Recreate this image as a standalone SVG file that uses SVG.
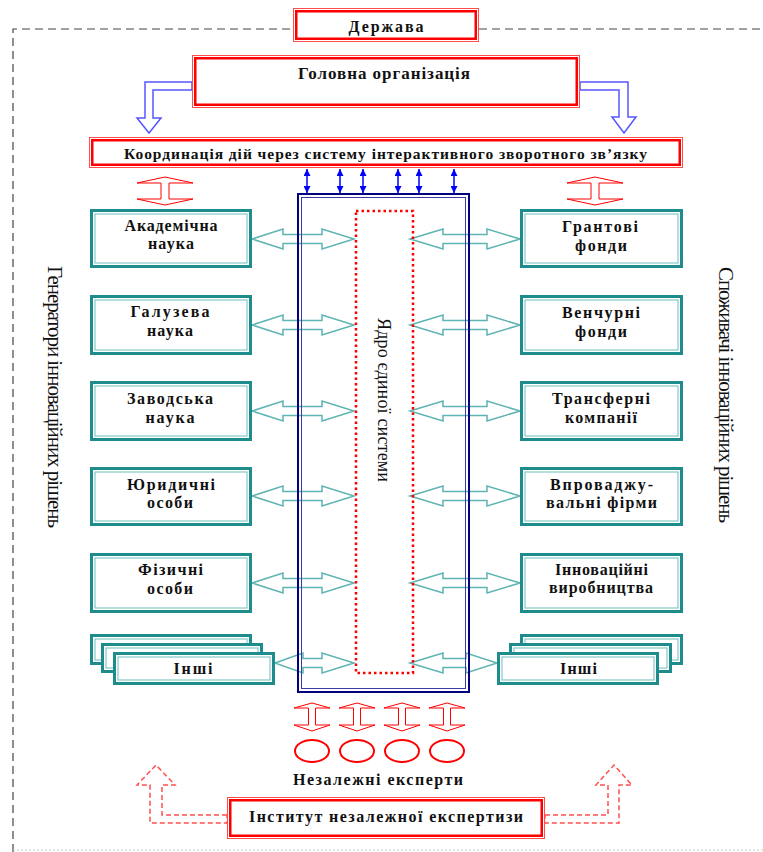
<svg xmlns="http://www.w3.org/2000/svg" width="763" height="852" viewBox="0 0 763 852">
<style>
text{font-family:"Liberation Serif","Times New Roman",serif;fill:#111}
.b{font-weight:bold;font-size:16px;text-anchor:middle}
.v{font-size:21px;text-anchor:middle}
.ro{fill:#fff;stroke:#ff4d4d;stroke-width:1}
.ri{fill:none;stroke:#f00;stroke-width:2.5}
.to{fill:#fff;stroke:#1e8c8c;stroke-width:3}
.ti{fill:none;stroke:#6dbdbd;stroke-width:1}
.ta{fill:#fff;stroke:#5fb3b3;stroke-width:1.5}
.ba{fill:#fff;stroke:#5555ff;stroke-width:1.5}
.ra{fill:#fff;stroke:#f00;stroke-width:1}
.rd{fill:#fff;stroke:#ff5050;stroke-width:1.5;stroke-dasharray:5,3}
.sm{stroke:#00f;stroke-width:1.5;marker-start:url(#ah);marker-end:url(#ah)}
.fr{fill:none;stroke:#444;stroke-width:1.2;stroke-dasharray:8,5}
</style>
<defs>
<marker id="ah" viewBox="0 0 10 10" refX="10" refY="5" markerWidth="7" markerHeight="7" markerUnits="userSpaceOnUse" orient="auto-start-reverse">
<path d="M0,0 L10,5 L0,10 z" fill="#00f"/>
</marker>
</defs>
<rect width="763" height="852" fill="#fff"/>
<g id="frame">
<path class="fr" d="M13,852 V29 H293 M479,29 H763"/>
<path d="M13,850 H763" stroke="#ccc" stroke-width="1" stroke-dasharray="2,2"/>
</g>
<g id="connectors">
<polygon class="ba" points="192,82 145,82 145,118 137,118 149,133 161,118 153,118 153,90 192,90"/>
<polygon class="ba" points="580,82 628,82 628,117 636,117 624,133 612,117 619,117 619,90 580,90"/>
<line class="sm" x1="307" y1="169" x2="307" y2="193"/>
<line class="sm" x1="340" y1="169" x2="340" y2="193"/>
<line class="sm" x1="363" y1="169" x2="363" y2="193"/>
<line class="sm" x1="398" y1="169" x2="398" y2="193"/>
<line class="sm" x1="419" y1="169" x2="419" y2="193"/>
<line class="sm" x1="454" y1="169" x2="454" y2="193"/>
<polygon class="ra" points="165,177 193,183 169,183 169,199 193,199 165,205 137,199 161,199 161,183 137,183"/>
<polygon class="ra" points="595,177 623,183 599,183 599,199 623,199 595,205 567,199 591,199 591,183 567,183"/>
<g id="ta-left">
<polygon class="ta" points="252,239 283,229 283,234.5 322,234.5 322,229 354,239 322,249 322,243.5 283,243.5 283,249"/>
<polygon class="ta" points="252,325 283,315 283,320.5 322,320.5 322,315 354,325 322,335 322,329.5 283,329.5 283,335"/>
<polygon class="ta" points="252,411 283,401 283,406.5 322,406.5 322,401 354,411 322,421 322,415.5 283,415.5 283,421"/>
<polygon class="ta" points="252,496 283,486 283,491.5 322,491.5 322,486 354,496 322,506 322,500.5 283,500.5 283,506"/>
<polygon class="ta" points="252,583 283,573 283,578.5 322,578.5 322,573 354,583 322,593 322,587.5 283,587.5 283,593"/>
<polygon class="ta" points="275,663 303,653 303,658.5 322,658.5 322,653 354,663 322,673 322,667.5 303,667.5 303,673"/>
</g>
<g id="ta-right">
<polygon class="ta" points="410,239 443,229 443,234.5 487,234.5 487,229 520,239 487,249 487,243.5 443,243.5 443,249"/>
<polygon class="ta" points="410,325 443,315 443,320.5 487,320.5 487,315 520,325 487,335 487,329.5 443,329.5 443,335"/>
<polygon class="ta" points="410,411 443,401 443,406.5 487,406.5 487,401 520,411 487,421 487,415.5 443,415.5 443,421"/>
<polygon class="ta" points="410,496 443,486 443,491.5 487,491.5 487,486 520,496 487,506 487,500.5 443,500.5 443,506"/>
<polygon class="ta" points="410,583 443,573 443,578.5 487,578.5 487,573 520,583 487,593 487,587.5 443,587.5 443,593"/>
<polygon class="ta" points="410,663 443,653 443,658.5 466,658.5 466,653 497,663 466,673 466,667.5 443,667.5 443,673"/>
</g>
<g id="expert-arrows">
<polygon class="ra" points="312,703 330,708 315.5,708 315.5,725 330,725 312,731 294,725 308.5,725 308.5,708 294,708"/>
<polygon class="ra" points="357,703 375,708 360.5,708 360.5,725 375,725 357,731 339,725 353.5,725 353.5,708 339,708"/>
<polygon class="ra" points="402,703 420,708 405.5,708 405.5,725 420,725 402,731 384,725 398.5,725 398.5,708 384,708"/>
<polygon class="ra" points="447,703 465,708 450.5,708 450.5,725 465,725 447,731 429,725 443.5,725 443.5,708 429,708"/>
</g>
<polygon class="rd" points="227,815 162,815 162,785 175,785 156,765 137,785 150,785 150,823 227,823"/>
<polygon class="rd" points="545,815 608,815 608,785 596,785 614,765 632,785 619,785 619,823 545,823"/>
</g>
<g id="derzhava">
<rect class="ro" x="293.5" y="8.5" width="185" height="33"/>
<rect class="ri" x="296.25" y="11.25" width="179.5" height="27.5"/>
<text class="b" x="386" y="32" textLength="75">Держава</text>
</g>
<g id="holovna">
<rect class="ro" x="192.5" y="55.5" width="387" height="52"/>
<rect class="ri" x="195.25" y="58.25" width="381.5" height="46.5"/>
<text class="b" x="384" y="79" textLength="172" style="font-size:17px">Головна організація</text>
</g>
<g id="koordynatsiia">
<rect class="ro" x="89.5" y="137.5" width="593" height="30"/>
<rect class="ri" x="92.25" y="140.25" width="587.5" height="24.5"/>
<text class="b" x="385.5" y="159" textLength="523" style="font-size:15.5px">Координація дій через систему інтерактивного зворотного зв’язку</text>
</g>
<g id="core">
<rect x="298" y="194" width="171" height="498" fill="none" stroke="#000080" stroke-width="2"/>
<rect x="301.5" y="197.5" width="164" height="491" fill="none" stroke="#3a3aa8" stroke-width="1"/>
<rect x="356" y="211" width="57" height="462" fill="none" stroke="#f00" stroke-width="2.5" stroke-dasharray="2.5,3"/>
<text transform="translate(378,400) rotate(90)" font-size="18" text-anchor="middle" textLength="164">Ядро єдиної системи</text>
</g>
<g id="akademichna">
<rect class="to" x="91.5" y="210.5" width="159" height="56"/>
<rect class="ti" x="95" y="214" width="152" height="49"/>
<text class="b" x="171" y="231" textLength="93">Академічна</text>
<text class="b" x="171" y="249" textLength="46">наука</text>
</g>
<g id="haluzeva">
<rect class="to" x="91.5" y="296.5" width="159" height="57"/>
<rect class="ti" x="95" y="300" width="152" height="50"/>
<text class="b" x="170" y="317" textLength="79">Галузева</text>
<text class="b" x="170" y="336" textLength="46">наука</text>
</g>
<g id="zavodska">
<rect class="to" x="91.5" y="382.5" width="159" height="57"/>
<rect class="ti" x="95" y="386" width="152" height="50"/>
<text class="b" x="170" y="404" textLength="86">Заводська</text>
<text class="b" x="170" y="423" textLength="49">наука</text>
</g>
<g id="yurydychni">
<rect class="to" x="91.5" y="468.5" width="159" height="56"/>
<rect class="ti" x="95" y="472" width="152" height="49"/>
<text class="b" x="171" y="490" textLength="88">Юридичні</text>
<text class="b" x="170" y="508" textLength="46">особи</text>
</g>
<g id="fizychni">
<rect class="to" x="91.5" y="554.5" width="159" height="57"/>
<rect class="ti" x="95" y="558" width="152" height="50"/>
<text class="b" x="170.5" y="575" textLength="65">Фізичні</text>
<text class="b" x="170" y="594" textLength="46">особи</text>
</g>
<g id="inshi-left">
<rect class="to" x="91.5" y="635.5" width="159" height="28"/>
<rect class="ti" x="95" y="639" width="152" height="21"/>
<rect class="to" x="102.5" y="644.5" width="159" height="27"/>
<rect class="ti" x="106" y="648" width="152" height="20"/>
<rect class="to" x="114.5" y="653.5" width="159" height="30"/>
<rect class="ti" x="118" y="657" width="152" height="23"/>
<text class="b" x="193" y="674" textLength="39">Інші</text>
</g>
<g id="grantovi">
<rect class="to" x="521.5" y="210.5" width="160" height="56"/>
<rect class="ti" x="525" y="214" width="153" height="49"/>
<text class="b" x="600" y="232" textLength="76">Грантові</text>
<text class="b" x="601" y="251" textLength="52">фонди</text>
</g>
<g id="venchurni">
<rect class="to" x="521.5" y="296.5" width="160" height="57"/>
<rect class="ti" x="525" y="300" width="153" height="50"/>
<text class="b" x="601" y="318" textLength="78">Венчурні</text>
<text class="b" x="601" y="337" textLength="52">фонди</text>
</g>
<g id="transferni">
<rect class="to" x="521.5" y="382.5" width="160" height="57"/>
<rect class="ti" x="525" y="386" width="153" height="50"/>
<text class="b" x="601" y="404" textLength="98">Трансферні</text>
<text class="b" x="601" y="423" textLength="72">компанії</text>
</g>
<g id="vprovadzhuvalni">
<rect class="to" x="521.5" y="468.5" width="160" height="56"/>
<rect class="ti" x="525" y="472" width="153" height="49"/>
<text class="b" x="601.5" y="490" textLength="103">Впроваджу-</text>
<text class="b" x="601.5" y="508" textLength="111">вальні фірми</text>
</g>
<g id="innovatsiini">
<rect class="to" x="521.5" y="554.5" width="160" height="57"/>
<rect class="ti" x="525" y="558" width="153" height="50"/>
<text class="b" x="601.5" y="575" textLength="93">Інноваційні</text>
<text class="b" x="601" y="593" textLength="104">виробництва</text>
</g>
<g id="inshi-right">
<rect class="to" x="521.5" y="635.5" width="160" height="28"/>
<rect class="ti" x="525" y="639" width="153" height="21"/>
<rect class="to" x="510.5" y="644.5" width="160" height="27"/>
<rect class="ti" x="514" y="648" width="153" height="20"/>
<rect class="to" x="498.5" y="653.5" width="159" height="30"/>
<rect class="ti" x="502" y="657" width="152" height="23"/>
<text class="b" x="578.5" y="674" textLength="37">Інші</text>
</g>
<g id="experts">
<ellipse cx="312" cy="751" rx="17" ry="11" fill="none" stroke="#f00" stroke-width="2"/>
<ellipse cx="357" cy="751" rx="17" ry="11" fill="none" stroke="#f00" stroke-width="2"/>
<ellipse cx="402" cy="751" rx="17" ry="11" fill="none" stroke="#f00" stroke-width="2"/>
<ellipse cx="447" cy="751" rx="17" ry="11" fill="none" stroke="#f00" stroke-width="2"/>
<text class="b" x="378" y="785" textLength="170">Незалежні експерти</text>
</g>
<g id="instytut">
<rect class="ro" x="227.5" y="797.5" width="317" height="41"/>
<rect class="ri" x="230.25" y="800.25" width="311.5" height="35.5"/>
<text class="b" x="386" y="822" textLength="274">Інститут незалежної експертизи</text>
</g>
<g id="side-labels">
<text class="v" transform="translate(48,397) rotate(90)" textLength="262">Генератори інноваційних рішень</text>
<text class="v" transform="translate(719,395) rotate(90)" textLength="256">Споживачі інноваційних рішень</text>
</g>
</svg>
